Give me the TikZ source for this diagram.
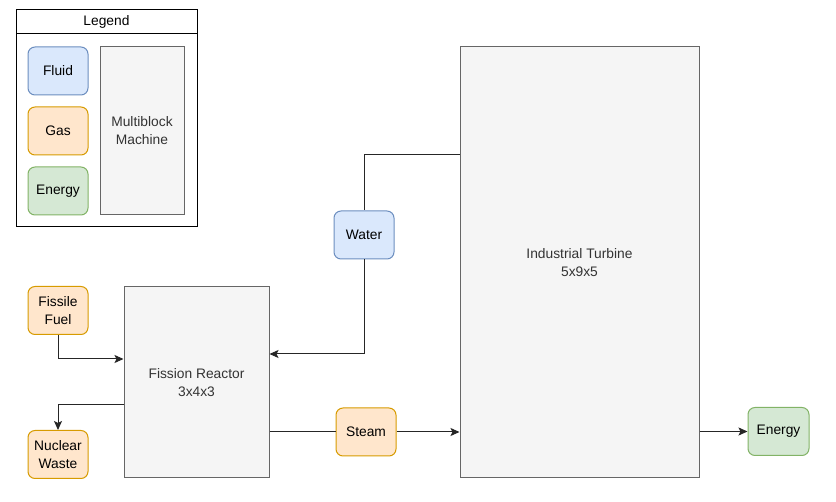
\documentclass[tikz,border=0pt]{standalone}
\usepackage{fontspec}
\setmainfont{Liberation Sans}
\usetikzlibrary{arrows.meta}
\definecolor{fluidfill}{HTML}{DAE8FC}
\definecolor{fluidline}{HTML}{6C8EBF}
\definecolor{gasfill}{HTML}{FFE6CC}
\definecolor{gasline}{HTML}{D79B00}
\definecolor{enfill}{HTML}{D5E8D4}
\definecolor{enline}{HTML}{82B366}
\definecolor{mbfill}{HTML}{F5F5F5}
\definecolor{mbline}{HTML}{666666}
\definecolor{mbtext}{HTML}{333333}
\tikzset{
  lbl/.style={font=\fontsize{13.8}{18}\selectfont, align=center, inner sep=0pt},
  res/.style={lbl, draw, line width=1pt, rounded corners=7pt, minimum width=60pt, minimum height=48pt},
  fluid/.style={res, fill=fluidfill, draw=fluidline},
  gas/.style={res, fill=gasfill, draw=gasline},
  energy/.style={res, fill=enfill, draw=enline},
  machine/.style={lbl, draw=mbline, fill=mbfill, text=mbtext, line width=1pt},
  conn/.style={line width=1pt, black!85},
  arr/.style={conn, -{Stealth[length=9pt,width=8pt,inset=2pt]}},
}
\begin{document}
\begin{tikzpicture}[x=1pt,y=-1pt]
\useasboundingbox (0,0) rectangle (836,502);
% legend
\node[draw, line width=1pt, minimum width=181pt, minimum height=217pt, inner sep=0pt] (legend) at (106.5,118.5) {};
\draw[line width=1pt] (16,34) -- (197,34);
\node[lbl] (legendtitle) at (106.5,22) {Legend};
\node[fluid] (lfluid) at (58,71) {Fluid};
\node[gas] (lgas) at (58,131) {Gas};
\node[energy] (lenergy) at (58,191) {Energy};
\node[machine, minimum width=84pt, minimum height=168pt] (lmb) at (142,131) {Multiblock\\Machine};
% main
\node[machine, minimum width=145pt, minimum height=191pt] (reactor) at (196.5,382.5) {Fission Reactor\\3x4x3};
\node[machine, minimum width=239pt, minimum height=431pt] (turb) at (579.5,262.5) {Industrial Turbine\\5x9x5};
\node[gas] (fuel) at (58,310.5) {Fissile\\Fuel};
\node[gas] (waste) at (58,454.5) {Nuclear\\Waste};
\node[fluid] (water) at (364,235) {Water};
\node[gas] (steam) at (366,432) {Steam};
\node[energy, minimum width=61pt] (energy) at (778.5,431.5) {Energy};
% connectors
\draw[arr] (fuel.south) |- ([yshift=23.5pt]reactor.west);
\draw[arr] ([yshift=-22.5pt]reactor.west) -| (waste.north);
\draw[conn] ([yshift=107.5pt]turb.west) -| (water.north);
\draw[arr] (water.south) |- ([yshift=28.5pt]reactor.east);
\draw[conn] (reactor.east |- steam.west) -- (steam.west);
\draw[arr] (steam.east) -- (turb.west |- steam.east);
\draw[arr] (turb.east |- energy.west) -- (energy.west);
\end{tikzpicture}
\end{document}
